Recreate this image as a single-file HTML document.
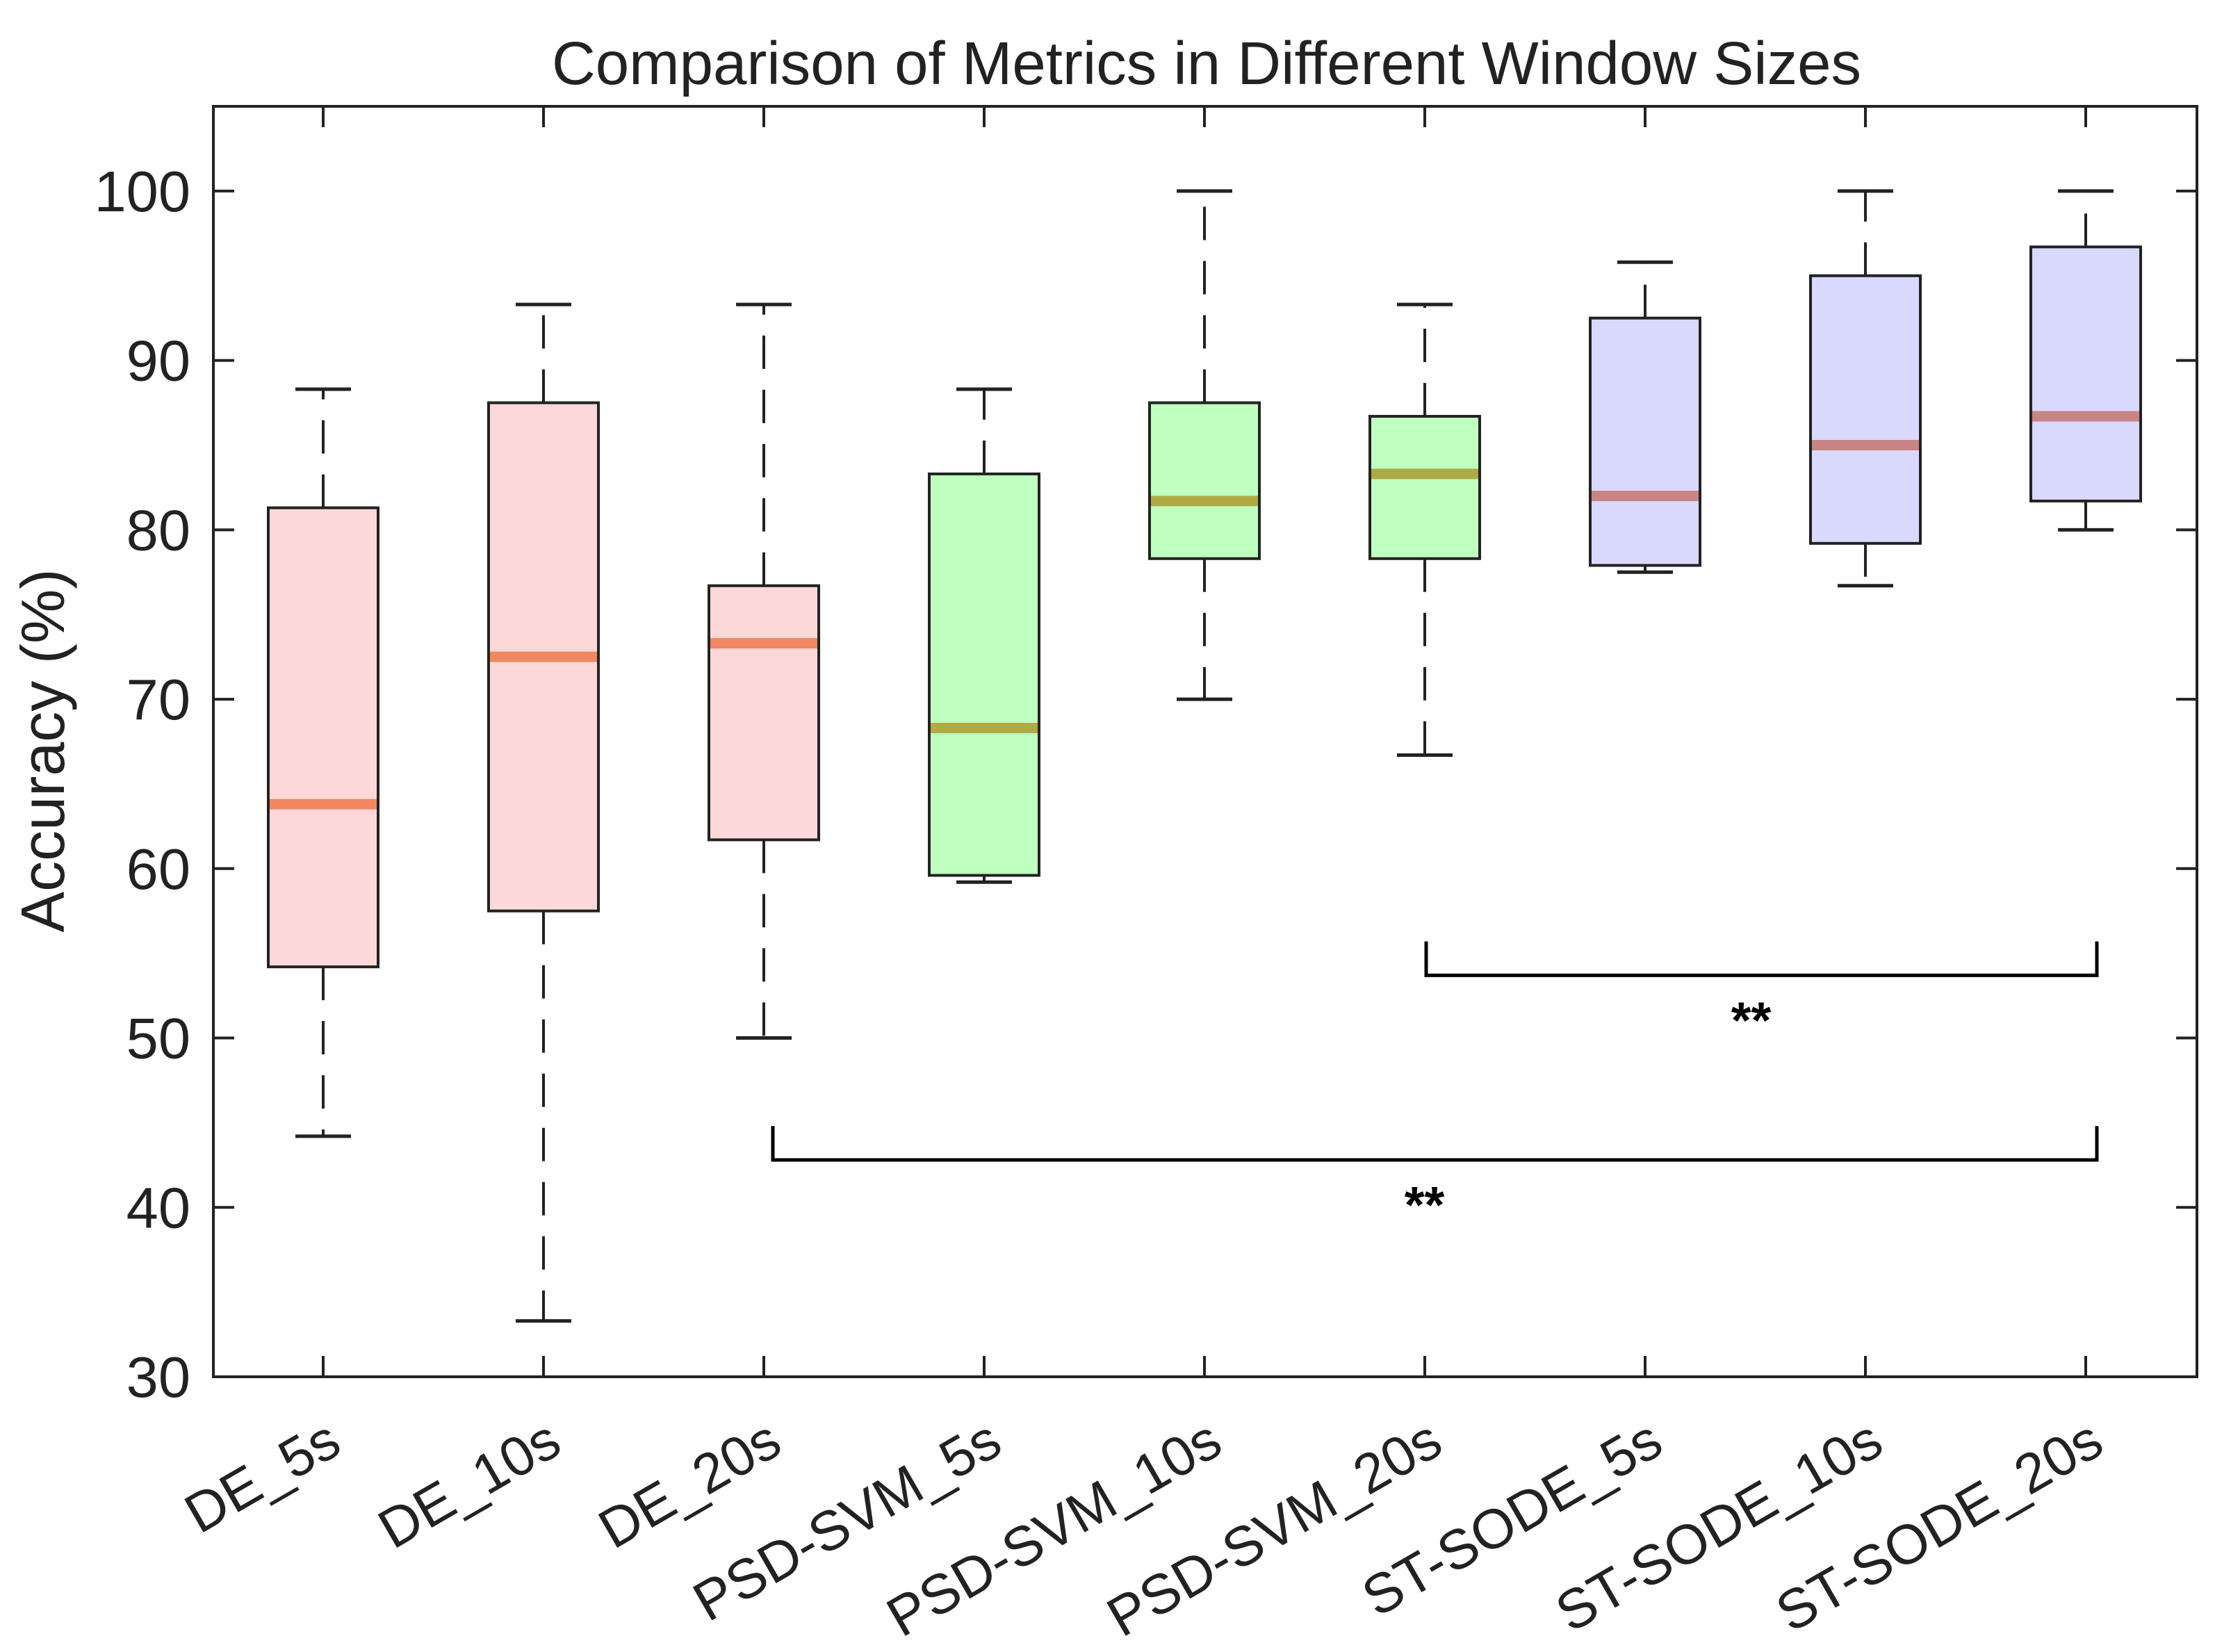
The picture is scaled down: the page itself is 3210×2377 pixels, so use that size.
<!DOCTYPE html>
<html><head><meta charset="utf-8"><style>
html,body{margin:0;padding:0;background:#fff;}
svg{display:block;font-family:"Liberation Sans",Arial,sans-serif;}
</style></head><body>
<svg id="chart" width="3210" height="2377" viewBox="0 0 3210 2377" xmlns="http://www.w3.org/2000/svg">
<rect width="3210" height="2377" fill="#fff"/>
<text x="1736" y="121" font-size="87" text-anchor="middle" fill="#222">Comparison of Metrics in Different Window Sizes</text>
<text transform="translate(92,1080) rotate(-90)" font-size="88" text-anchor="middle" fill="#222">Accuracy (%)</text>
<g id="marks"></g>
<rect x="307" y="153" width="2854" height="1828" fill="none" stroke="#222" stroke-width="4"/>
</svg>
<script>
const categories = ["DE_5s","DE_10s","DE_20s","PSD-SVM_5s","PSD-SVM_10s","PSD-SVM_20s","ST-SODE_5s","ST-SODE_10s","ST-SODE_20s"];
const whiskerLow = [44.2,33.3,50,59.2,70,66.7,77.5,76.7,80];
const q1 = [54.2,57.5,61.7,59.6,78.3,78.3,77.9,79.2,81.7];
const medians = [63.8,72.5,73.3,68.3,81.7,83.3,82.0,85.0,86.7];
const q3 = [81.3,87.5,76.7,83.3,87.5,86.7,92.5,95.0,96.7];
const whiskerHigh = [88.3,93.3,93.3,88.3,100,93.3,95.8,100,100];
const groups = [0,0,0,1,1,1,2,2,2];
const yTicks = [30,40,50,60,70,80,90,100];
const sigFrom = [5,2];
const sigTo = [8,8];
const sigLevel = [53.7,42.8];
const sigLabels = ["**","**"];

const NS="http://www.w3.org/2000/svg";
const X0=307,X1=3161,Y0=153,Y1=1981,YMIN=30,YMAX=105;
const yScale=v=>Y1-(v-YMIN)/(YMAX-YMIN)*(Y1-Y0);
const xScale=i=>465+i*317;
const fills=["#fdd8d9","#bfffbf","#d9d9fe"];
const medCols=["#ef8860","#aeab45","#c98484"];
const g=document.getElementById('marks');
function mk(tag,attrs){const e=document.createElementNS(NS,tag);for(const k in attrs)e.setAttribute(k,attrs[k]);g.appendChild(e);return e;}

yTicks.forEach(t=>{
  const y=yScale(t);
  let e=mk('line',{x1:X0,x2:X0+30,y1:y,y2:y,stroke:'#222','stroke-width':4});
  
  
  e=mk('line',{x1:X1-30,x2:X1,y1:y,y2:y,stroke:'#222','stroke-width':4});
  
  
  e=mk('text',{x:274,y:y+29,'font-size':83,'text-anchor':'end',fill:'#222'});
  e.textContent=t;
  
  
});

categories.forEach((c,i)=>{
  const x=xScale(i);
  let e=mk('line',{x1:x,x2:x,y1:Y1,y2:Y1-30,stroke:'#222','stroke-width':4});
  
  
  e=mk('line',{x1:x,x2:x,y1:Y0,y2:Y0+30,stroke:'#222','stroke-width':4});
  
  
  e=mk('text',{x:x+30,y:2088,'font-size':80,'text-anchor':'end',fill:'#222',transform:`rotate(-30 ${x+30} 2088)`});
  e.textContent=c;
  
  

  e=mk('line',{x1:x,x2:x,y1:yScale(q3[i]),y2:yScale(whiskerHigh[i]),stroke:'#222','stroke-width':4,'stroke-dasharray':'48 30'});
  
  
  e=mk('line',{x1:x,x2:x,y1:yScale(q1[i]),y2:yScale(whiskerLow[i]),stroke:'#222','stroke-width':4,'stroke-dasharray':'48 30'});
  
  
  e=mk('line',{x1:x-40,x2:x+40,y1:yScale(whiskerHigh[i]),y2:yScale(whiskerHigh[i]),stroke:'#222','stroke-width':5});
  
  
  e=mk('line',{x1:x-40,x2:x+40,y1:yScale(whiskerLow[i]),y2:yScale(whiskerLow[i]),stroke:'#222','stroke-width':5});
  
  
  e=mk('rect',{x:x-79,width:158,y:yScale(q3[i]),height:yScale(q1[i])-yScale(q3[i]),fill:fills[groups[i]],stroke:'#222','stroke-width':4});
  
  
  e=mk('line',{x1:x-77,x2:x+77,y1:yScale(medians[i]),y2:yScale(medians[i]),stroke:medCols[groups[i]],'stroke-width':15});
  
  
});

sigFrom.forEach((a,k)=>{
  const xa=xScale(a)+(a===2?13:2), xb=xScale(sigTo[k])+16;
  const y=yScale(sigLevel[k]), yt=yScale(sigLevel[k]+2);
  let e=mk('path',{d:`M${xa} ${yt} L${xa} ${y} L${xb} ${y} L${xb} ${yt}`,fill:'none',stroke:'#000','stroke-width':5});
  
  
  e=mk('text',{x:(xa+xb)/2-15,y:y+90,'font-size':74,'font-weight':'bold','text-anchor':'middle',fill:'#000'});
  e.textContent=sigLabels[k];
  
  
});
</script>
</body></html>
